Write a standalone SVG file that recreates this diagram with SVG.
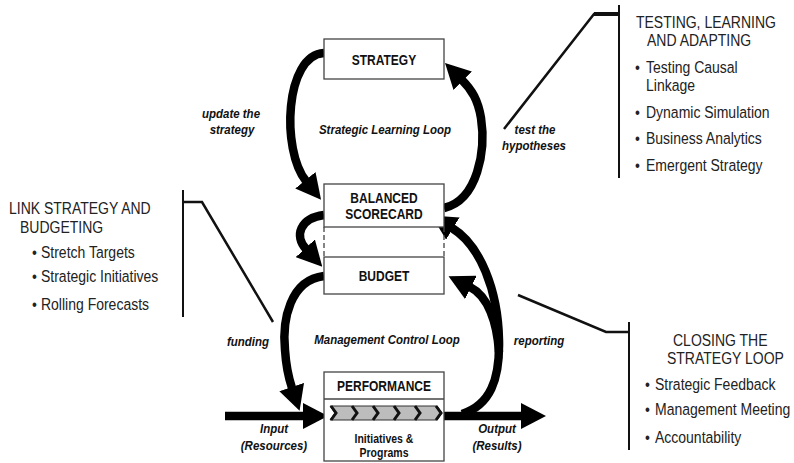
<svg xmlns="http://www.w3.org/2000/svg" width="794" height="463" viewBox="0 0 794 463">
  <style>
    text { font-family: "Liberation Sans", Arial, sans-serif; transform-box: fill-box; transform-origin: center; transform: scaleY(1.18); }
    .box { fill: #fff; stroke: #444; stroke-width: 1.3; }
    .bt { font-size: 12px; font-weight: bold; text-anchor: middle; fill: #111; }
    .st { font-size: 10.5px; font-weight: bold; text-anchor: middle; fill: #111; }
    .lbl { font-size: 11.5px; font-weight: bold; font-style: italic; text-anchor: middle; fill: #111; }
    .ct { font-size: 14px; fill: #222; }
    .flow { fill: none; stroke: #000; stroke-width: 8.5; marker-end: url(#ah); }
    .lead { fill: none; stroke: #111; stroke-width: 2.5; }
    .dash { stroke: #444; stroke-width: 1.3; stroke-dasharray: 5 3; }
    .chev { fill: none; stroke: #111; stroke-width: 3; }
  </style>
  <defs>
    <marker id="ah" markerUnits="userSpaceOnUse" markerWidth="25" markerHeight="26" viewBox="0 0 25 26" refX="1" refY="13" orient="auto">
      <path d="M0,0 L25,13 L0,26 z" fill="#000"/>
    </marker>
  </defs>

  <rect width="794" height="463" fill="#fff"/>

  <!-- loops and flows -->
  <g id="connectors">
    <!-- strategic learning loop -->
    <path class="flow" d="M324,53 C285,55 281,150 306,181"/>
    <path class="flow" d="M444,208 C478,200 486,150 481,118 C478,100 472,90 462,80"/>
    <!-- scorecard to budget -->
    <path class="flow" d="M324,215 C300,218 294,236 306,249"/>
    <!-- management control loop -->
    <path class="flow" d="M324,276 C290,280 282,320 285,350 C286,365 288,376 292,388"/>
    <path class="flow" d="M462,414 C490,405 500,380 499,340 C498,290 480,245 452,228"/>
    <path class="flow" d="M499,352 C497,322 488,296 470,287"/>
    <!-- input / output -->
    <path class="flow" d="M225,416 L304,416" stroke-width="8"/>
    <path class="flow" d="M444,416 L522,416" stroke-width="8"/>
  </g>

  <g id="strategy">
    <rect class="box" x="324" y="39" width="120" height="40"/>
    <text class="bt" x="384" y="64">STRATEGY</text>
  </g>

  <g id="balanced-scorecard">
    <rect class="box" x="324" y="184" width="120" height="43"/>
    <text class="bt" x="384" y="202">BALANCED</text>
    <text class="bt" x="384" y="218">SCORECARD</text>
    <line class="dash" x1="324" y1="227" x2="324" y2="257"/>
    <line class="dash" x1="444" y1="227" x2="444" y2="257"/>
  </g>

  <g id="budget">
    <rect class="box" x="324" y="257" width="120" height="37"/>
    <text class="bt" x="384" y="280">BUDGET</text>
  </g>

  <g id="performance">
    <rect class="box" x="324" y="372" width="120" height="89"/>
    <line x1="324" y1="399" x2="444" y2="399" stroke="#444" stroke-width="1.3"/>
    <text class="bt" x="384" y="390">PERFORMANCE</text>
    <polygon points="330,406 437,406 442,413 437,420 330,420 335,413" fill="#bdbdbd" stroke="#333" stroke-width="1"/>
    <polyline class="chev" points="331,406 336,413 331,420"/>
    <polyline class="chev" points="352,406 357,413 352,420"/>
    <polyline class="chev" points="373,406 378,413 373,420"/>
    <polyline class="chev" points="394,406 399,413 394,420"/>
    <polyline class="chev" points="415,406 420,413 415,420"/>
    <polyline class="chev" points="436,406 441,413 436,420"/>
    <text class="st" x="384" y="442">Initiatives &amp;</text>
    <text class="st" x="384" y="456">Programs</text>
  </g>

  <g id="flow-labels">
    <text class="lbl" x="231" y="117">update the</text>
    <text class="lbl" x="232" y="133">strategy</text>
    <text class="lbl" x="385" y="133">Strategic Learning Loop</text>
    <text class="lbl" x="535" y="133">test the</text>
    <text class="lbl" x="534" y="149">hypotheses</text>
    <text class="lbl" x="248" y="345">funding</text>
    <text class="lbl" x="387" y="343">Management Control Loop</text>
    <text class="lbl" x="539" y="344">reporting</text>
    <text class="lbl" x="274" y="432">Input</text>
    <text class="lbl" x="274" y="449">(Resources)</text>
    <text class="lbl" x="497" y="432">Output</text>
    <text class="lbl" x="497" y="449">(Results)</text>
  </g>

  <g id="callout-testing">
    <polyline class="lead" points="504,129 594,14 619,14"/>
    <line x1="594" y1="14" x2="619" y2="14" stroke="#111" stroke-width="4"/>
    <line x1="619" y1="5" x2="619" y2="178" stroke="#111" stroke-width="2"/>
    <text class="ct" x="636" y="27">TESTING, LEARNING</text>
    <text class="ct" x="647" y="45">AND ADAPTING</text>
    <text class="ct" x="635" y="72">•</text>
    <text class="ct" x="646" y="72">Testing Causal</text>
    <text class="ct" x="646" y="90">Linkage</text>
    <text class="ct" x="635" y="117">•</text>
    <text class="ct" x="646" y="117">Dynamic Simulation</text>
    <text class="ct" x="635" y="143">•</text>
    <text class="ct" x="646" y="143">Business Analytics</text>
    <text class="ct" x="635" y="170">•</text>
    <text class="ct" x="646" y="170">Emergent Strategy</text>
  </g>

  <g id="callout-link">
    <polyline class="lead" points="183,202 202,202 273,322"/>
    <line x1="183" y1="190" x2="183" y2="317" stroke="#111" stroke-width="2"/>
    <text class="ct" x="9" y="213">LINK STRATEGY AND</text>
    <text class="ct" x="20" y="232">BUDGETING</text>
    <text class="ct" x="32" y="257">•</text>
    <text class="ct" x="41" y="257">Stretch Targets</text>
    <text class="ct" x="32" y="281">•</text>
    <text class="ct" x="41" y="281">Strategic Initiatives</text>
    <text class="ct" x="32" y="309">•</text>
    <text class="ct" x="41" y="309">Rolling Forecasts</text>
  </g>

  <g id="callout-closing">
    <polyline class="lead" points="518,295 606,332 629,332"/>
    <line x1="629" y1="322" x2="629" y2="450" stroke="#111" stroke-width="2"/>
    <text class="ct" x="673" y="345">CLOSING THE</text>
    <text class="ct" x="667" y="363">STRATEGY LOOP</text>
    <text class="ct" x="645" y="389">•</text>
    <text class="ct" x="655" y="389">Strategic Feedback</text>
    <text class="ct" x="645" y="414">•</text>
    <text class="ct" x="655" y="414">Management Meeting</text>
    <text class="ct" x="645" y="442">•</text>
    <text class="ct" x="655" y="442">Accountability</text>
  </g>
</svg>
